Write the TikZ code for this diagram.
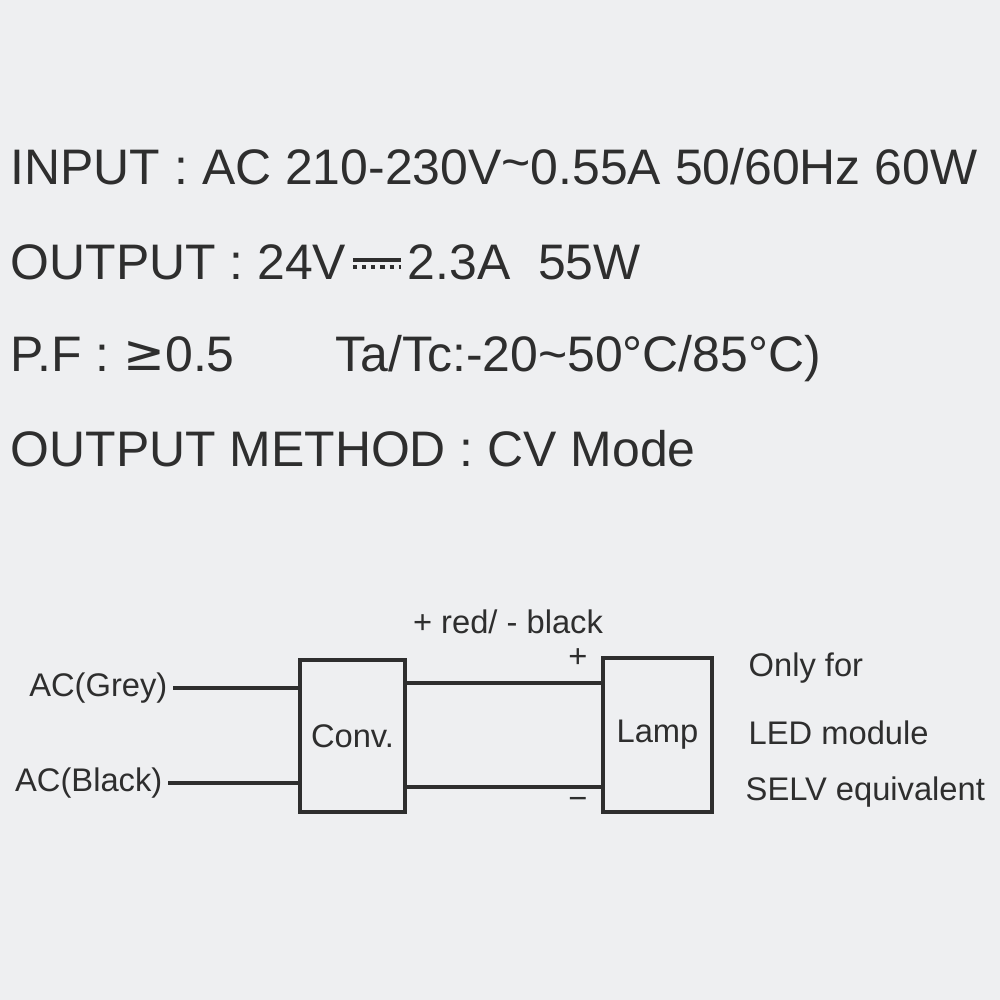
\documentclass[tikz,border=0pt]{standalone}
\usepackage{fontspec}
\setmainfont{Liberation Sans}
\usetikzlibrary{positioning}
\definecolor{bg}{HTML}{EEEFF1}
\definecolor{ink}{HTML}{2E2E2E}
\tikzset{spec/.style={anchor=base west, inner sep=0pt, text=ink, font=\fontsize{14.2}{17}\selectfont},
  small/.style={inner sep=0pt, text=ink, font=\fontsize{9.3}{11}\selectfont},
  box/.style={draw=ink, line width=1.2pt, minimum width=1.05cm, minimum height=1.52cm, inner sep=0pt, text=ink, font=\fontsize{9.3}{11}\selectfont},
  wire/.style={draw=ink, line width=1.3pt}}
\begin{document}
\begin{tikzpicture}
\fill[bg] (0,0) rectangle (10,10);
\useasboundingbox (0,0) rectangle (10,10);
% ratings
\node[spec] (in) at (0.1,8.15) {INPUT : AC 210-230V\raisebox{0.2ex}{\symbol{"007E}}0.55A 50/60Hz 60W};
\node[spec] (out) at (0.1,7.2) {OUTPUT : 24V};
\coordinate (dc) at ([xshift=0.06cm, yshift=0.2cm]out.base east);
\coordinate (dcend) at ([xshift=0.54cm]out.base east);
\draw[ink, line width=1pt] (dc) -- ++(0.48,0);
\draw[ink, line width=1pt, dash pattern=on 1.2pt off 1.4pt] ([yshift=-0.07cm]dc) -- ++(0.48,0);
\node[spec] (outb) at ([xshift=0.06cm]dcend) {2.3A\ \ 55W};
\node[spec] (pf) at (0.1,6.28) {P.F : \raisebox{0.05ex}{\fontspec{DejaVu Sans}≥}0.5};
\node[spec] (ta) at (3.35,6.28) {Ta/Tc:-20\symbol{"007E}50\textdegree C/85\textdegree C)};
\node[spec] (meth) at (0.1,5.33) {OUTPUT METHOD : CV Mode};
% wiring
\node[box] (conv) at (3.525,2.64) {Conv.};
\node[box, minimum width=1.09cm, minimum height=1.54cm] (lamp) at (6.575,2.65) {Lamp};
\node[small, anchor=east] (grey) at (1.68,3.12) {AC(Grey)};
\node[small, anchor=east] (black) at (1.63,2.17) {AC(Black)};
\draw[wire] (grey.east) ++(0.05,0) -- (grey.east -| conv.west);
\draw[wire] (black.east) ++(0.05,0) -- (black.east -| conv.west);
\draw[wire] (conv.east |- 0,3.17) -- (lamp.west |- 0,3.17);
\draw[wire] (conv.east |- 0,2.13) -- (lamp.west |- 0,2.13);
\node[small] (pol) at (5.08,3.78) {+ red/ - black};
\node[small] (plus) at (5.78,3.42) {+};
\node[small] (minus) at (5.78,1.97) {−};
\node[small, anchor=west] (only) at (7.48,3.32) {Only for};
\node[small, anchor=west] (led) at (7.48,2.67) {LED module};
\node[small, anchor=west] (selv) at (7.45,2.08) {SELV equivalent};
\end{tikzpicture}
\end{document}
